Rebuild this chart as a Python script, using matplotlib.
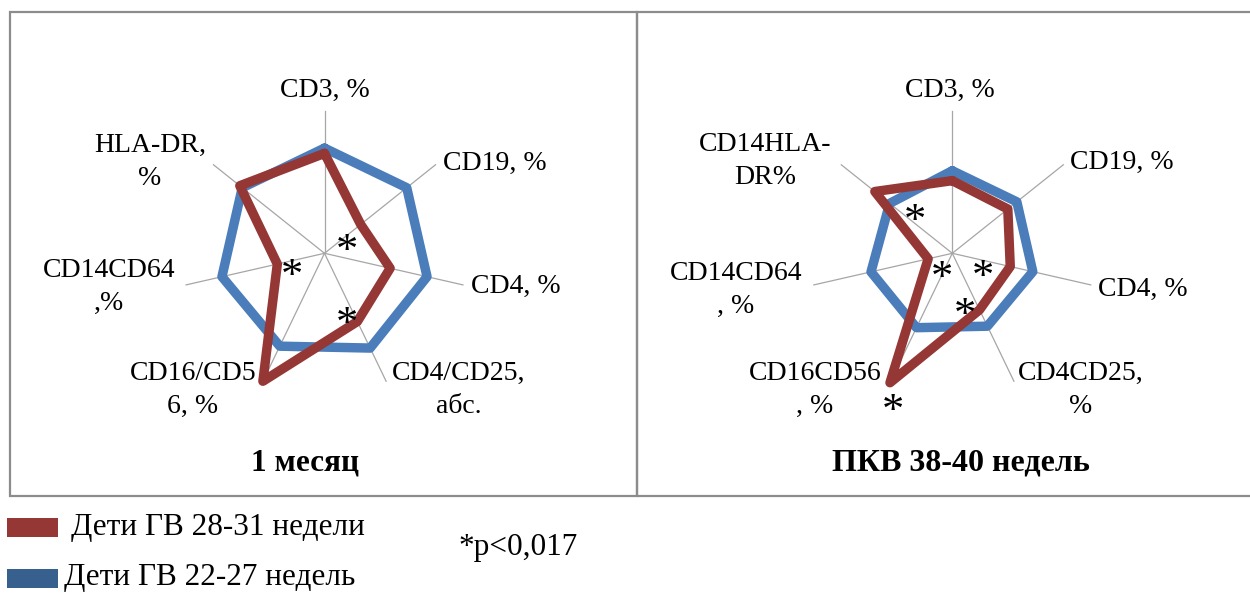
import numpy as np
import matplotlib.pyplot as plt
from matplotlib.patches import Rectangle

plt.rcParams['font.family'] = ['Liberation Serif', 'DejaVu Serif']

W, H = 1250, 593

# подписи осей
labels_left = ['CD3, %', 'CD19, %', 'CD4, %', 'CD4/CD25,\nабс.',
               'CD16/CD5\n6, %', 'CD14CD64\n,%', 'HLA-DR,\n%']
labels_right = ['CD3, %', 'CD19, %', 'CD4, %', 'CD4CD25,\n%',
                'CD16CD56\n, %', 'CD14CD64\n, %', 'CD14HLA-\nDR%']

# значения относительно группы 22-27 недель (=100)
blue_left = [100, 100, 100, 100, 98, 100, 100]
red_left = [95, 44, 64, 72, 135, 46, 103]
max_left = 135

blue_right = [100, 100, 100, 98, 100, 101, 97]
red_right = [88, 86, 72, 76, 174, 30, 120]
max_right = 172

titles = ['1 месяц', 'ПКВ 38-40 недель']
series_names = ['Дети ГВ 28-31 недели', 'Дети ГВ 22-27 недель']

RED = '#953735'
BLUE = '#4a7dba'
BLUE_LEG = '#37608f'

fig = plt.figure(figsize=(W / 100, H / 100), dpi=100)


def fx(x):
    return x / W


def fy(y):
    return 1 - y / H


# рамки панелей
for x0, x1 in [(10, 637), (637, 1252)]:
    fig.add_artist(Rectangle((fx(x0), fy(496)), fx(x1) - fx(x0), fy(12) - fy(496),
                             transform=fig.transFigure, fill=False,
                             edgecolor='#8c8c8c', lw=1.6))


def radar(cx, cy, vmax, blue, red, R=142, L=170):
    ax = fig.add_axes([fx(cx - L), fy(cy + L), 2 * L / W, 2 * L / H])
    lim = vmax * L / R
    ax.set_xlim(-lim, lim)
    ax.set_ylim(-lim, lim)
    ax.axis('off')
    n = len(blue)
    th = np.arange(n) * 2 * np.pi / n
    for t in th:
        ax.plot([0, vmax * np.sin(t)], [0, vmax * np.cos(t)], color='#a6a6a6', lw=0.9, zorder=1)
    for vals, col in [(blue, BLUE), (red, RED)]:
        v = np.array(vals + vals[:1], dtype=float)
        t = np.append(th, th[0])
        ax.plot(v * np.sin(t), v * np.cos(t), color=col, lw=6.8, zorder=3,
                solid_joinstyle='round', solid_capstyle='round')
    return ax


radar(324.5, 253.3, max_left, blue_left, red_left)
radar(952.3, 253.3, max_right, blue_right, red_right)

# позиции подписей (пиксели)
pos_left = [(324.5, 90), (494.5, 163), (516, 286), (459, 390),
            (193, 390), (109, 287), (150, 162)]
pos_right = [(950, 90), (1122, 162), (1143, 289), (1081, 390),
             (815, 390), (736, 290), (765, 161)]

for labels, pos in [(labels_left, pos_left), (labels_right, pos_right)]:
    for lab, (x, y) in zip(labels, pos):
        fig.text(fx(x), fy(y), lab, ha='center', va='center', fontsize=20,
                 multialignment='center', linespacing=1.4)

fig.text(fx(305), fy(463), titles[0], ha='center', va='center', fontsize=22.5, fontweight='bold')
fig.text(fx(961), fy(463), titles[1], ha='center', va='center', fontsize=23, fontweight='bold')

# звездочки
stars = [(347, 243), (292, 268), (347, 316),
         (915, 213), (942, 270), (983, 269), (965, 307), (893, 403)]
for x, y in stars:
    fig.text(fx(x), fy(y + 20), '*', ha='center', va='baseline', fontsize=32)

# легенда
for (y0, col, name, tx) in [(518, RED, series_names[0], 71), (569, BLUE_LEG, series_names[1], 64)]:
    fig.add_artist(Rectangle((fx(7), fy(y0 + 19)), fx(58) - fx(7), fy(y0) - fy(y0 + 19),
                             transform=fig.transFigure, color=col, lw=0))
    fig.text(fx(tx), fy(y0 + 9), name, ha='left', va='center', fontsize=22.5)

fig.text(fx(458), fy(548), '*p<0,017', ha='left', va='center', fontsize=22.5)

fig.savefig('out.png', dpi=100, facecolor='white')
